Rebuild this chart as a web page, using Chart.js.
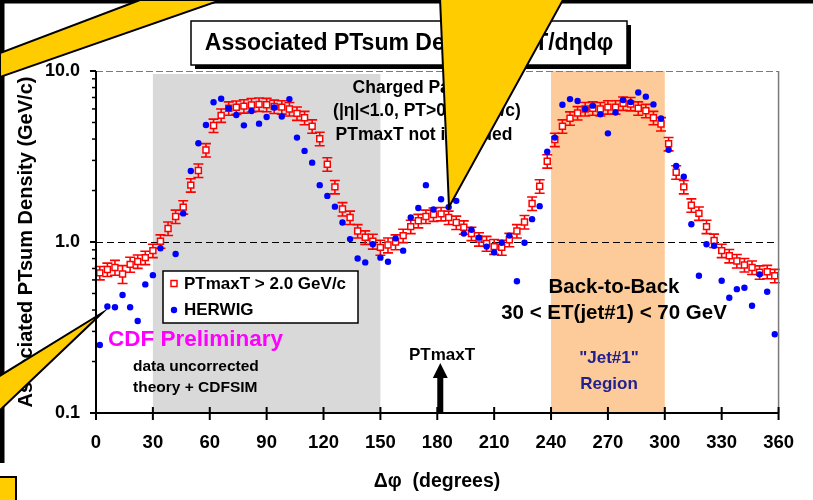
<!DOCTYPE html>
<html>
<head>
<meta charset="utf-8">
<script src="https://cdn.jsdelivr.net/npm/chart.js@4/dist/chart.umd.min.js"></script>
<style>
  html, body { margin: 0; padding: 0; background: #ffffff; }
  #wrap { width: 813px; height: 500px; position: relative; }
</style>
</head>
<body>
<div id="wrap"><canvas id="c" width="813" height="500"></canvas></div>
<script>
const FONT = '"Liberation Sans", Arial, sans-serif';

// Δφ bin centres (degrees)
const dphi = [2,6,10,14,18,22,26,30,34,38,
  42,46,50,54,58,62,66,70,74,78,
  82,86,90,94,98,102,106,110,114,118,
  122,126,130,134,138,142,146,150,154,158,
  162,166,170,174,178,182,186,190,194,198,
  202,206,210,214,218,222,226,230,234,238,
  242,246,250,254,258,262,266,270,274,278,
  282,286,290,294,298,302,306,310,314,318,
  322,326,330,334,338,342,346,350,354,358];

// Data, PTmaxT > 2.0 GeV/c (GeV/c)
const ptmaxData = [0.66,0.69,0.71,0.65,0.74,0.77,0.81,0.89,1.01,1.20,
  1.41,1.60,2.15,2.62,3.45,4.80,5.50,6.05,6.13,6.23,
  6.33,6.38,6.35,6.20,6.15,6.00,5.65,5.33,4.75,4.02,
  2.85,2.10,1.56,1.39,1.16,1.065,1.01,0.93,0.96,1.00,
  1.09,1.23,1.33,1.41,1.45,1.46,1.39,1.30,1.22,1.12,
  1.04,0.98,0.94,0.93,1.03,1.16,1.31,1.68,2.12,2.97,
  3.97,4.75,5.29,5.68,6.00,6.05,6.00,6.15,6.15,6.47,
  6.42,6.05,5.85,5.33,4.90,3.75,2.56,2.10,1.64,1.47,
  1.23,1.02,0.89,0.83,0.775,0.734,0.71,0.665,0.67,0.635];

// Relative uncertainty on each data point
const ptmaxRelErr = [0.09,0.09,0.10,0.12,0.10,0.09,0.09,0.09,0.09,0.09,
  0.09,0.09,0.09,0.09,0.09,0.09,0.09,0.09,0.09,0.09,
  0.09,0.09,0.09,0.09,0.09,0.09,0.09,0.09,0.09,0.09,
  0.09,0.09,0.09,0.09,0.09,0.09,0.10,0.10,0.10,0.10,
  0.09,0.09,0.09,0.09,0.09,0.09,0.09,0.09,0.09,0.09,
  0.09,0.10,0.10,0.10,0.09,0.09,0.09,0.09,0.09,0.09,
  0.09,0.09,0.09,0.09,0.09,0.09,0.09,0.09,0.09,0.09,
  0.09,0.09,0.09,0.09,0.09,0.09,0.09,0.09,0.09,0.09,
  0.09,0.09,0.09,0.09,0.09,0.09,0.09,0.09,0.09,0.09];

// HERWIG + CDFSIM prediction (GeV/c)
const herwigData = [0.25,0.42,0.415,0.49,0.415,0.345,0.565,0.64,0.92,null,
  0.85,1.47,2.60,3.78,4.83,6.56,6.88,6.06,5.53,4.81,
  5.83,4.92,5.38,6.12,5.42,6.85,4.08,3.41,2.91,2.15,
  1.86,1.61,1.30,1.04,0.80,0.76,0.97,0.81,0.767,1.05,
  0.89,1.39,1.58,2.15,1.55,1.78,1.60,1.74,1.12,1.18,
  1.06,0.94,0.87,0.99,1.09,0.59,0.99,1.36,1.62,3.37,
  4.08,6.35,6.85,6.68,6.00,6.27,5.58,4.32,5.72,6.77,
  6.58,7.49,7.08,6.38,5.28,3.46,2.78,2.41,1.27,0.635,
  0.97,0.95,0.594,0.472,0.53,0.54,0.424,0.647,0.512,0.289];

const xTicks = [0,30,60,90,120,150,180,210,240,270,300,330,360];
const yTicks = [0.1, 1, 10];
const yMinorTicks = [0.2,0.3,0.4,0.5,0.6,0.7,0.8,0.9,2,3,4,5,6,7,8,9];
const grayBand = [30, 150];
const jetBand = [240, 300];
const refLine = 1.0;
const arrowAt = 180;

const seriesLabels = ['PTmaxT > 2.0 GeV/c', 'HERWIG'];
const titleText = 'Associated PTsum Density dPT/d\u03b7d\u03c6';
const yTitle = 'Associated PTsum Density (GeV/c)';
const xTitle = '\u0394\u03c6  (degrees)';

function bold(size) { return 'bold ' + size + 'px ' + FONT; }

function text(ctx, str, x, y, size, align, color) {
  ctx.font = bold(size);
  ctx.fillStyle = color || '#000';
  ctx.textAlign = align || 'left';
  ctx.textBaseline = 'middle';
  ctx.fillText(str, x, y);
}

function poly(ctx, pts, fill, stroke, lw) {
  ctx.beginPath();
  ctx.moveTo(pts[0][0], pts[0][1]);
  for (let i = 1; i < pts.length; i++) ctx.lineTo(pts[i][0], pts[i][1]);
  ctx.closePath();
  ctx.fillStyle = fill;
  ctx.fill();
  if (stroke) { ctx.strokeStyle = stroke; ctx.lineWidth = lw || 2; ctx.lineJoin = 'miter'; ctx.stroke(); }
}

const decorations = {
  id: 'decorations',
  beforeDatasetsDraw(chart) {
    const { ctx, chartArea: a, scales: { x, y } } = chart;
    ctx.save();
    // shaded regions
    const g0 = x.getPixelForValue(grayBand[0]), g1 = x.getPixelForValue(grayBand[1]);
    ctx.fillStyle = '#D9D9D9';
    ctx.fillRect(g0, a.top + 3, g1 - g0, a.bottom - a.top - 3);
    const j0 = x.getPixelForValue(jetBand[0]), j1 = x.getPixelForValue(jetBand[1]);
    ctx.fillStyle = '#FDCB99';
    ctx.fillRect(j0, a.top, j1 - j0, a.bottom - a.top);
    // dashed reference line
    const yr = Math.round(y.getPixelForValue(refLine)) + 0.5;
    ctx.strokeStyle = '#000';
    ctx.lineWidth = 1;
    ctx.setLineDash([7, 4]);
    ctx.beginPath(); ctx.moveTo(a.left, yr); ctx.lineTo(a.right, yr); ctx.stroke();
    ctx.setLineDash([]);
    ctx.restore();
  },
  beforeDatasetDraw(chart, args) {
    if (args.index !== 0) return;
    const { ctx, scales: { y } } = chart;
    ctx.save();
    ctx.strokeStyle = '#FF0000';
    ctx.lineWidth = 1.6;
    args.meta.data.forEach((pt, i) => {
      const v = ptmaxData[i];
      const e = v * ptmaxRelErr[i];
      const yt = y.getPixelForValue(v + e), yb = y.getPixelForValue(v - e);
      ctx.beginPath();
      ctx.moveTo(pt.x, yt); ctx.lineTo(pt.x, yb);
      ctx.moveTo(pt.x - 5, yt); ctx.lineTo(pt.x + 5, yt);
      ctx.moveTo(pt.x - 5, yb); ctx.lineTo(pt.x + 5, yb);
      ctx.stroke();
    });
    ctx.restore();
  },
  afterDraw(chart) {
    const { ctx, chartArea: a, scales: { x, y } } = chart;
    ctx.save();

    // plot frame: top (dashed grey) and right (grey)
    ctx.strokeStyle = '#7a7a7a';
    ctx.lineWidth = 1;
    ctx.setLineDash([7, 3]);
    ctx.beginPath(); ctx.moveTo(a.left, a.top + 0.5); ctx.lineTo(a.right, a.top + 0.5); ctx.stroke();
    ctx.setLineDash([]);
    ctx.lineWidth = 1.5;
    ctx.beginPath(); ctx.moveTo(a.right, a.top); ctx.lineTo(a.right, a.bottom); ctx.stroke();

    // axes
    ctx.strokeStyle = '#000';
    ctx.lineWidth = 2;
    ctx.beginPath();
    ctx.moveTo(a.left, a.top); ctx.lineTo(a.left, a.bottom + 7);
    ctx.moveTo(a.left - 6, a.bottom); ctx.lineTo(a.right, a.bottom);
    ctx.stroke();
    // x ticks crossing the axis
    xTicks.forEach(v => {
      const px = x.getPixelForValue(v);
      ctx.beginPath(); ctx.moveTo(px, a.bottom - 6); ctx.lineTo(px, a.bottom + 7); ctx.stroke();
    });
    // y major and minor ticks
    yTicks.forEach(v => {
      const py = y.getPixelForValue(v);
      ctx.beginPath(); ctx.moveTo(a.left - 6, py); ctx.lineTo(a.left, py); ctx.stroke();
    });
    ctx.lineWidth = 1.5;
    yMinorTicks.forEach(v => {
      const py = y.getPixelForValue(v);
      ctx.beginPath(); ctx.moveTo(a.left - 4, py); ctx.lineTo(a.left, py); ctx.stroke();
    });

    // axis titles
    text(ctx, xTitle, 437, 482, 19.5, 'center');
    ctx.save();
    ctx.translate(26, 242);
    ctx.rotate(-Math.PI / 2);
    text(ctx, yTitle, 0, 0, 20, 'center');
    ctx.restore();

    // legend
    const ds = chart.data.datasets;
    ctx.fillStyle = '#fff';
    ctx.fillRect(163, 271, 195, 52);
    ctx.strokeStyle = '#000';
    ctx.lineWidth = 1.5;
    ctx.strokeRect(163, 271, 195, 52);
    ctx.fillStyle = '#fff';
    ctx.fillRect(171, 280.5, 6, 6);
    ctx.strokeStyle = ds[0].pointBorderColor;
    ctx.lineWidth = 1.5;
    ctx.strokeRect(171, 280.5, 6, 6);
    text(ctx, ds[0].label, 184, 284, 17, 'left');
    ctx.fillStyle = ds[1].pointBackgroundColor;
    ctx.beginPath(); ctx.arc(174, 310, ds[1].pointRadius, 0, Math.PI * 2); ctx.fill();
    text(ctx, ds[1].label, 184, 310, 17, 'left');

    // annotations
    text(ctx, 'Charged Particles', 427, 88, 17.5, 'center');
    text(ctx, '(|\u03b7|<1.0, PT>0.5 GeV/c)', 427, 111, 17.5, 'center');
    text(ctx, 'PTmaxT not included', 424, 135, 17.5, 'center');
    text(ctx, 'CDF Preliminary', 108, 340, 22.5, 'left', '#FF00FF');
    text(ctx, 'data uncorrected', 133, 367, 15.5, 'left');
    text(ctx, 'theory + CDFSIM', 133, 388, 15.5, 'left');
    text(ctx, 'Back-to-Back', 614, 287, 20.5, 'center');
    text(ctx, '30 < ET(jet#1) < 70 GeV', 614, 313, 20.5, 'center');
    text(ctx, '"Jet#1"', 609, 358, 17, 'center', '#202090');
    text(ctx, 'Region', 609, 384, 17, 'center', '#202090');
    text(ctx, 'PTmaxT', 442, 355, 17, 'center');

    // arrow marking the leading track direction
    const ax = x.getPixelForValue(arrowAt) + 3;
    ctx.fillStyle = '#000';
    ctx.fillRect(ax - 3, 376, 6, a.bottom - 376);
    poly(ctx, [[ax - 7.5, 378], [ax + 7.5, 378], [ax, 363]], '#000');

    // title box with drop shadow
    ctx.fillStyle = '#000';
    ctx.fillRect(195, 25, 436, 44);
    ctx.fillStyle = '#fff';
    ctx.fillRect(191, 21, 436, 44);
    ctx.strokeStyle = '#000';
    ctx.lineWidth = 1.5;
    ctx.strokeRect(191, 21, 436, 44);
    text(ctx, titleText, 409, 43.5, 23, 'center');

    // slide frame
    ctx.fillStyle = '#000';
    ctx.fillRect(0, 0, 813, 3.5);
    ctx.fillRect(0, 0, 4.5, 463);

    // callout pointers
    const yellow = '#FFCC00';
    poly(ctx, [[0, 53], [140, 0], [221, 0], [0, 77]], yellow, '#000', 2);
    poly(ctx, [[440, -2], [564, -2], [449, 207]], yellow, '#000', 2);
    poly(ctx, [[-2, 377], [102, 313], [-2, 412]], yellow, '#000', 2);
    poly(ctx, [[-2, 477], [16, 477], [16, 502], [-2, 502]], yellow, '#000', 2);

    ctx.restore();
  }
};

new Chart(document.getElementById('c'), {
  type: 'scatter',
  data: {
    datasets: [
      {
        label: seriesLabels[0],
        data: dphi.map((p, i) => ({ x: p, y: ptmaxData[i] })),
        pointStyle: 'rect',
        pointRadius: 4.2,
        pointBorderWidth: 1.5,
        pointBorderColor: '#FF0000',
        pointBackgroundColor: '#FFFFFF',
        showLine: false,
        order: 2
      },
      {
        label: seriesLabels[1],
        data: dphi.map((p, i) => ({ x: p, y: herwigData[i] })),
        pointStyle: 'circle',
        pointRadius: 3.2,
        pointBorderWidth: 0,
        pointBorderColor: '#0000FF',
        pointBackgroundColor: '#0000FF',
        showLine: false,
        order: 1
      }
    ]
  },
  options: {
    responsive: false,
    animation: false,
    events: [],
    layout: { padding: { left: 0, right: 32, top: 71, bottom: 0 } },
    plugins: { legend: { display: false }, tooltip: { enabled: false }, title: { display: false } },
    scales: {
      x: {
        type: 'linear', min: 0, max: 360,
        afterBuildTicks: s => { s.ticks = xTicks.map(v => ({ value: v })); },
        afterFit: s => { s.height = 87; },
        grid: { display: false, drawTicks: false },
        border: { display: false },
        ticks: { padding: 19, color: '#000', autoSkip: false, maxRotation: 0,
          font: { family: FONT, size: 18.5, weight: 'bold' },
          callback: v => String(v) }
      },
      y: {
        type: 'logarithmic', min: 0.1, max: 10,
        afterBuildTicks: s => { s.ticks = yTicks.map(v => ({ value: v })); },
        afterFit: s => { s.width = 96; },
        grid: { display: false, drawTicks: false },
        border: { display: false },
        ticks: { padding: 16, color: '#000', autoSkip: false,
          font: { family: FONT, size: 18, weight: 'bold' },
          callback: v => Number(v).toFixed(1) }
      }
    }
  },
  plugins: [decorations]
});
</script>
</body>
</html>
